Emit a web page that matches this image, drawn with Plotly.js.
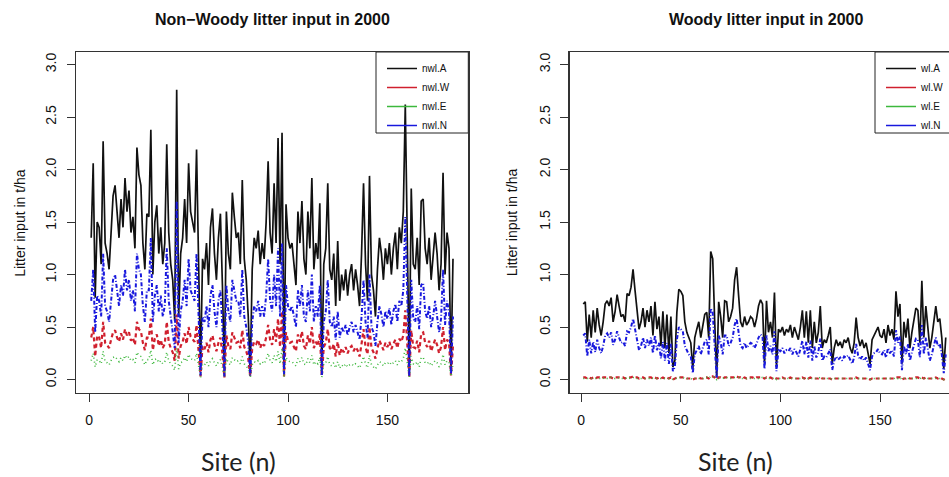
<!DOCTYPE html>
<html>
<head>
<meta charset="utf-8">
<script src="https://cdn.plot.ly/plotly-3.0.1.min.js"></script>
<style>
html,body{margin:0;padding:0;overflow:hidden;background:#fff;}
#chart{width:966px;height:477px;}
</style>
</head>
<body>
<div id="chart"></div>
<script>
// ---- data ----
const nSites = 183;
const sites = Array.from({length: nSites}, (_, i) => i + 1);

const nwlA = [
1.35,2.06,0.78,1.50,1.45,1.10,2.27,1.30,1.20,1.05,
1.40,1.75,1.85,1.55,1.35,1.72,1.45,1.92,1.60,1.80,
1.40,1.55,1.25,2.21,1.95,1.85,1.30,1.05,1.58,1.55,
2.38,1.00,1.50,1.66,1.20,1.45,1.10,1.30,2.24,1.40,
1.10,0.95,0.56,2.76,0.60,1.20,1.35,1.72,1.30,2.06,
1.60,1.50,1.40,2.19,0.95,0.08,1.15,1.05,1.30,0.90,
1.45,1.63,1.20,0.95,1.35,1.58,0.90,0.06,1.60,1.20,
1.05,1.78,1.55,1.35,1.40,1.10,1.90,1.15,0.95,0.60,
0.07,1.05,1.35,1.25,1.42,1.10,1.30,1.15,1.50,2.08,
1.40,1.20,1.87,1.30,2.30,1.10,2.35,0.08,1.67,1.35,
1.25,1.30,1.10,0.90,1.60,1.30,1.70,1.15,1.00,1.60,
1.25,1.92,1.05,1.30,1.15,1.68,0.08,1.10,1.25,1.87,
1.05,0.95,1.20,0.70,1.32,0.75,1.00,0.85,1.05,0.80,
1.00,1.10,0.85,1.05,0.90,0.70,1.20,1.87,1.10,0.75,
1.94,1.00,0.85,0.60,1.05,1.35,1.20,0.95,1.25,1.10,
1.30,1.00,1.25,1.40,1.05,1.45,1.30,1.60,2.62,1.25,
0.06,1.82,1.10,1.05,1.35,0.90,1.70,1.72,1.25,1.10,
1.35,0.95,1.15,1.40,1.20,0.85,1.10,1.97,1.00,1.40,
1.25,0.10,1.15];

const nwlW = [
0.40,0.50,0.22,0.42,0.40,0.30,0.55,0.35,0.33,0.30,
0.38,0.45,0.47,0.40,0.36,0.44,0.38,0.48,0.42,0.45,
0.37,0.40,0.33,0.55,0.48,0.46,0.35,0.28,0.40,0.40,
0.58,0.28,0.39,0.43,0.32,0.38,0.30,0.34,0.55,0.36,
0.30,0.26,0.18,0.62,0.20,0.32,0.36,0.44,0.34,0.50,
0.41,0.39,0.36,0.52,0.27,0.03,0.32,0.29,0.35,0.26,
0.38,0.42,0.33,0.27,0.35,0.40,0.25,0.02,0.42,0.32,
0.29,0.45,0.40,0.35,0.36,0.30,0.47,0.31,0.27,0.20,
0.03,0.30,0.36,0.34,0.38,0.30,0.35,0.32,0.40,0.52,
0.38,0.33,0.48,0.36,0.58,0.31,0.65,0.03,0.45,0.37,
0.35,0.36,0.31,0.27,0.43,0.36,0.46,0.32,0.29,0.42,
0.34,0.50,0.30,0.36,0.32,0.44,0.03,0.31,0.35,0.48,
0.30,0.28,0.34,0.22,0.36,0.23,0.30,0.26,0.31,0.25,
0.30,0.32,0.27,0.31,0.28,0.22,0.34,0.48,0.31,0.24,
0.50,0.30,0.26,0.20,0.30,0.37,0.33,0.28,0.35,0.31,
0.36,0.29,0.34,0.38,0.30,0.39,0.36,0.42,0.66,0.35,
0.02,0.47,0.31,0.30,0.37,0.26,0.44,0.45,0.35,0.31,
0.37,0.27,0.32,0.38,0.33,0.25,0.31,0.50,0.28,0.38,
0.35,0.04,0.32];

const nwlE = [
0.18,0.25,0.12,0.19,0.18,0.15,0.27,0.17,0.16,0.14,
0.18,0.21,0.22,0.19,0.17,0.21,0.18,0.23,0.20,0.22,
0.18,0.19,0.16,0.26,0.23,0.22,0.17,0.14,0.19,0.19,
0.28,0.14,0.19,0.20,0.16,0.18,0.15,0.17,0.26,0.18,
0.15,0.13,0.09,0.30,0.10,0.16,0.17,0.21,0.17,0.24,
0.20,0.19,0.18,0.25,0.13,0.02,0.15,0.14,0.17,0.13,
0.18,0.20,0.16,0.13,0.17,0.19,0.12,0.02,0.20,0.16,
0.14,0.21,0.19,0.17,0.18,0.15,0.22,0.15,0.13,0.10,
0.02,0.14,0.17,0.16,0.18,0.15,0.17,0.15,0.19,0.25,
0.18,0.16,0.23,0.17,0.27,0.15,0.30,0.02,0.21,0.18,
0.17,0.17,0.15,0.13,0.20,0.17,0.21,0.15,0.14,0.20,
0.16,0.23,0.14,0.17,0.15,0.21,0.02,0.15,0.16,0.22,
0.14,0.13,0.16,0.11,0.17,0.11,0.14,0.12,0.15,0.12,
0.14,0.15,0.13,0.15,0.13,0.11,0.16,0.22,0.15,0.11,
0.23,0.14,0.12,0.10,0.14,0.17,0.16,0.13,0.16,0.15,
0.17,0.14,0.16,0.18,0.14,0.18,0.17,0.20,0.30,0.16,
0.02,0.22,0.15,0.14,0.17,0.12,0.21,0.21,0.16,0.15,
0.17,0.13,0.15,0.18,0.16,0.12,0.15,0.24,0.14,0.18,
0.16,0.03,0.15];

const nwlN = [
0.75,1.05,0.45,0.80,0.75,0.60,1.20,0.70,0.65,0.55,
0.75,0.95,1.00,0.85,0.70,0.90,0.80,1.05,0.85,0.95,
0.75,0.85,0.65,1.20,1.05,1.00,0.70,0.55,0.85,0.85,
1.35,0.55,0.80,0.90,0.65,0.80,0.60,0.70,1.25,0.75,
0.60,0.50,0.30,1.70,0.35,0.65,0.75,0.95,0.70,1.15,
0.85,0.80,0.75,1.20,0.50,0.04,0.60,0.55,0.70,0.50,
0.80,0.90,0.65,0.50,0.75,0.85,0.50,0.03,0.90,0.65,
0.55,0.95,0.85,0.75,0.75,0.60,1.05,0.60,0.50,0.35,
0.04,0.55,0.70,0.65,0.75,0.60,0.70,0.60,0.80,1.15,
0.75,0.65,1.00,0.70,1.25,0.60,1.30,0.05,0.90,0.70,
0.65,0.70,0.60,0.50,0.85,0.70,0.90,0.60,0.55,0.85,
0.65,1.00,0.55,0.70,0.60,0.90,0.04,0.55,0.65,0.95,
0.55,0.50,0.60,0.38,0.65,0.40,0.50,0.45,0.52,0.42,
0.50,0.55,0.45,0.52,0.45,0.38,0.60,0.95,0.55,0.40,
1.00,0.50,0.45,0.32,0.55,0.70,0.62,0.50,0.65,0.58,
0.68,0.52,0.65,0.72,0.55,0.75,0.70,0.85,1.55,0.65,
0.03,0.95,0.58,0.55,0.70,0.48,0.90,0.92,0.65,0.58,
0.70,0.50,0.60,0.75,0.62,0.45,0.58,1.05,0.52,0.75,
0.65,0.05,0.60];

const wlA = [
0.72,0.74,0.36,0.62,0.40,0.66,0.45,0.68,0.52,0.42,
0.55,0.72,0.75,0.70,0.78,0.55,0.65,0.81,0.70,0.60,
0.62,0.55,0.82,0.80,0.88,1.05,0.85,0.65,0.48,0.55,
0.68,0.50,0.66,0.55,0.70,0.42,0.74,0.48,0.60,0.32,
0.65,0.30,0.62,0.25,0.60,0.12,0.18,0.64,0.86,0.84,
0.80,0.55,0.45,0.40,0.35,0.10,0.40,0.48,0.55,0.40,
0.50,0.62,0.64,0.40,1.22,1.15,0.55,0.02,0.74,0.60,
0.40,0.75,0.74,0.55,0.60,0.68,0.95,1.07,0.80,0.55,
0.50,0.60,0.52,0.55,0.60,0.58,0.50,0.58,0.70,0.76,
0.72,0.15,0.75,0.45,0.55,0.40,0.83,0.12,0.48,0.45,
0.50,0.42,0.48,0.45,0.52,0.40,0.50,0.44,0.38,0.50,
0.66,0.40,0.65,0.35,0.66,0.30,0.55,0.35,0.45,0.70,
0.30,0.38,0.35,0.42,0.50,0.15,0.30,0.38,0.32,0.36,
0.30,0.38,0.35,0.40,0.30,0.25,0.35,0.59,0.40,0.32,
0.38,0.30,0.35,0.25,0.15,0.38,0.42,0.45,0.50,0.42,
0.40,0.48,0.35,0.52,0.42,0.48,0.38,0.84,0.60,0.72,
0.15,0.55,0.40,0.58,0.30,0.45,0.55,0.68,0.66,0.35,
0.94,0.40,0.70,0.50,0.30,0.40,0.55,0.70,0.55,0.58,
0.40,0.10,0.40];

const wlW = [
0.02,0.02,0.01,0.02,0.01,0.02,0.01,0.02,0.02,0.01,
0.02,0.02,0.02,0.02,0.02,0.01,0.02,0.02,0.02,0.02,
0.02,0.01,0.02,0.02,0.02,0.03,0.02,0.02,0.01,0.02,
0.02,0.01,0.02,0.02,0.02,0.01,0.02,0.01,0.02,0.01,
0.02,0.01,0.02,0.01,0.02,0.00,0.01,0.02,0.02,0.02,
0.02,0.02,0.01,0.01,0.01,0.00,0.01,0.01,0.02,0.01,
0.01,0.02,0.02,0.01,0.03,0.03,0.02,0.00,0.02,0.02,
0.01,0.02,0.02,0.02,0.02,0.02,0.02,0.03,0.02,0.02,
0.01,0.02,0.01,0.02,0.02,0.02,0.01,0.02,0.02,0.02,
0.02,0.01,0.02,0.01,0.02,0.01,0.02,0.01,0.01,0.01,
0.02,0.01,0.01,0.01,0.02,0.01,0.01,0.01,0.01,0.01,
0.02,0.01,0.02,0.01,0.02,0.01,0.01,0.01,0.01,0.02,
0.01,0.01,0.01,0.01,0.01,0.00,0.01,0.01,0.01,0.01,
0.01,0.01,0.01,0.01,0.01,0.01,0.01,0.02,0.01,0.01,
0.01,0.01,0.01,0.01,0.00,0.01,0.01,0.01,0.01,0.01,
0.01,0.01,0.01,0.01,0.01,0.01,0.01,0.02,0.02,0.02,
0.00,0.01,0.01,0.02,0.01,0.01,0.01,0.02,0.02,0.01,
0.02,0.01,0.02,0.01,0.01,0.01,0.01,0.02,0.01,0.02,
0.01,0.00,0.01];

const wlE = [
0.01,0.01,0.01,0.01,0.01,0.01,0.01,0.01,0.01,0.01,
0.01,0.02,0.01,0.01,0.02,0.01,0.01,0.02,0.01,0.01,
0.01,0.01,0.02,0.01,0.02,0.02,0.02,0.01,0.01,0.01,
0.01,0.01,0.01,0.01,0.02,0.01,0.01,0.01,0.01,0.01,
0.01,0.01,0.01,0.01,0.01,0.00,0.01,0.01,0.02,0.02,
0.02,0.01,0.01,0.01,0.01,0.00,0.01,0.01,0.01,0.01,
0.01,0.01,0.02,0.01,0.03,0.03,0.02,0.00,0.02,0.01,
0.01,0.02,0.02,0.01,0.01,0.02,0.02,0.02,0.02,0.01,
0.01,0.01,0.01,0.01,0.01,0.01,0.01,0.01,0.01,0.02,
0.02,0.01,0.02,0.01,0.01,0.01,0.02,0.00,0.01,0.01,
0.01,0.01,0.01,0.01,0.01,0.01,0.01,0.01,0.01,0.01,
0.01,0.01,0.01,0.01,0.01,0.01,0.01,0.01,0.01,0.02,
0.01,0.01,0.01,0.01,0.01,0.00,0.01,0.01,0.01,0.01,
0.01,0.01,0.01,0.01,0.01,0.01,0.01,0.01,0.01,0.01,
0.01,0.01,0.01,0.01,0.00,0.01,0.01,0.01,0.01,0.01,
0.01,0.01,0.01,0.01,0.01,0.01,0.01,0.02,0.01,0.02,
0.00,0.01,0.01,0.01,0.01,0.01,0.01,0.01,0.01,0.01,
0.02,0.01,0.01,0.01,0.01,0.01,0.01,0.01,0.01,0.01,
0.01,0.00,0.01];

const wlN = [
0.42,0.44,0.22,0.38,0.25,0.36,0.26,0.38,0.30,0.25,
0.32,0.42,0.44,0.40,0.45,0.33,0.38,0.46,0.40,0.35,
0.36,0.32,0.46,0.45,0.50,0.58,0.48,0.38,0.28,0.32,
0.40,0.30,0.38,0.32,0.40,0.25,0.42,0.28,0.35,0.20,
0.36,0.18,0.35,0.15,0.34,0.08,0.12,0.38,0.50,0.48,
0.46,0.32,0.27,0.24,0.22,0.06,0.24,0.28,0.32,0.24,
0.30,0.36,0.38,0.24,0.68,0.64,0.32,0.02,0.42,0.35,
0.24,0.42,0.42,0.32,0.35,0.40,0.52,0.58,0.45,0.32,
0.30,0.35,0.30,0.32,0.35,0.34,0.30,0.34,0.40,0.43,
0.41,0.10,0.42,0.27,0.32,0.24,0.46,0.08,0.28,0.27,
0.30,0.25,0.28,0.27,0.30,0.24,0.29,0.26,0.22,0.29,
0.37,0.24,0.36,0.21,0.37,0.18,0.32,0.21,0.26,0.39,
0.18,0.22,0.21,0.25,0.29,0.09,0.18,0.22,0.19,0.21,
0.18,0.22,0.21,0.23,0.18,0.15,0.21,0.34,0.23,0.19,
0.22,0.18,0.21,0.15,0.09,0.22,0.25,0.26,0.29,0.25,
0.24,0.28,0.21,0.30,0.25,0.28,0.22,0.47,0.35,0.41,
0.09,0.32,0.24,0.34,0.18,0.26,0.32,0.39,0.38,0.21,
0.52,0.24,0.40,0.29,0.18,0.24,0.32,0.40,0.32,0.34,
0.24,0.06,0.24];

const leftNames  = ['nwl.A','nwl.W','nwl.E','nwl.N'];
const rightNames = ['wl.A','wl.W','wl.E','wl.N'];
const xTicks = [0, 50, 100, 150];
const yTicks = [0, 0.5, 1, 1.5, 2, 2.5, 3];
const titles = ['Non\u2212Woody litter input in 2000', 'Woody litter input in 2000'];
const yTitle = 'Litter input in t/ha';
const xTitle = 'Site (n)';

// ---- styling ----
const colors = ['#111111', '#D0202E', '#3DB83D', '#1818DD'];
const dashes = ['solid', '4px,3px', '1px,3px', '4px,2px,1px,2px'];
const widths = [1.7, 2.2, 1.6, 2.0];
const W = 966, H = 477;
const MT = 52, MB = 84, PH = H - MT - MB;
const FONT = 'Liberation Sans, Arial, sans-serif';

const traces = [];
const leftSeries = [nwlA, nwlW, nwlE, nwlN];
const rightSeries = [wlA, wlW, wlE, wlN];
[[leftSeries, 'x', 'y'], [rightSeries, 'x2', 'y2']].forEach(([ser, xa, ya]) => {
  ser.forEach((vals, k) => {
    traces.push({
      type: 'scatter', mode: 'lines', x: sites, y: vals, xaxis: xa, yaxis: ya,
      line: {color: colors[k], width: widths[k], dash: dashes[k]},
      showlegend: false, hoverinfo: 'skip'
    });
  });
});
// legend entries (solid lines as in the R legend)
[[leftNames, 'x', 'y', 'legend'], [rightNames, 'x2', 'y2', 'legend2']].forEach(([names, xa, ya, lg]) => {
  names.forEach((nm, k) => {
    traces.push({
      type: 'scatter', mode: 'lines', x: [null], y: [null], xaxis: xa, yaxis: ya,
      name: nm, legend: lg, showlegend: true,
      line: {color: colors[k], width: 1.5}
    });
  });
});

const boxL1 = 76.3, boxR1 = 468.3, boxL2 = 569.7, boxR2 = 961.7;
const legBoxL1 = 376, legBoxL2 = 875, legBoxBottom = 133;

function xAxis(dom, rng, anchor) {
  return {
    domain: dom, range: rng, anchor: anchor, tickvals: xTicks, ticks: 'outside', ticklen: 8,
    tickcolor: '#333', tickwidth: 1, showline: true, mirror: true, linecolor: '#333', linewidth: 1.3,
    showgrid: false, zeroline: false, ticklabelstandoff: 6,
    tickfont: {family: FONT, size: 14, color: '#111'}, fixedrange: true
  };
}
function yAxis(anchor) {
  return {
    domain: [0, 1], range: [-0.128, 3.12], anchor: anchor, tickvals: yTicks, tickformat: '.1f',
    tickangle: -90, ticks: 'outside', ticklen: 8, tickcolor: '#333', tickwidth: 1,
    showline: true, mirror: true, linecolor: '#333', linewidth: 1.3, ticklabelstandoff: 5,
    showgrid: false, zeroline: false, tickfont: {family: FONT, size: 14, color: '#111'}, fixedrange: true
  };
}

const legendBase = {
  y: 1 - 2 / PH, yanchor: 'top', xanchor: 'left', bgcolor: 'rgba(0,0,0,0)', borderwidth: 0,
  font: {family: FONT, size: 10, color: '#111'}, itemwidth: 30, tracegroupgap: 0
};

const shapes = [[legBoxL1, boxR1], [legBoxL2, boxR2]].map(([a, b]) => ({
  type: 'rect', xref: 'paper', yref: 'paper', layer: 'below',
  x0: a / W, x1: b / W, y0: (H - MB - legBoxBottom) / PH, y1: 1,
  line: {color: '#222', width: 1}, fillcolor: 'rgba(0,0,0,0)'
}));

const annotations = [];
[['x domain', 0], ['x2 domain', 1]].forEach(([xr, i]) => {
  annotations.push({xref: xr, yref: 'paper', x: 0.5, y: 1, yshift: 33, showarrow: false,
    text: titles[i], font: {family: FONT, size: 16, color: '#111', weight: 'bold'},
    xanchor: 'center', yanchor: 'middle'});
  annotations.push({xref: xr, yref: 'paper', x: 0, y: 0.5, xshift: i === 0 ? -57 : -58, showarrow: false,
    text: yTitle, textangle: -90, font: {family: FONT, size: 14, color: '#111'},
    xanchor: 'center', yanchor: 'middle'});
  annotations.push({xref: xr, yref: 'paper', x: i === 0 ? 0.415 : 0.422, y: 0, yshift: -68, showarrow: false,
    text: xTitle, font: {family: 'Lato, sans-serif', size: 25, color: '#222'},
    xanchor: 'center', yanchor: 'middle'});
});

const layout = {
  width: W, height: H,
  margin: {l: 0, r: 0, t: MT, b: MB},
  paper_bgcolor: 'white', plot_bgcolor: 'white',
  xaxis: xAxis([boxL1 / W, boxR1 / W], [-6.5, 190.7], 'y'),
  yaxis: yAxis('x'),
  xaxis2: xAxis([boxL2 / W, boxR2 / W], [-5.8, 191], 'y2'),
  yaxis2: yAxis('x2'),
  legend: Object.assign({x: (legBoxL1 + 6) / W}, legendBase),
  legend2: Object.assign({x: (legBoxL2 + 6) / W}, legendBase),
  shapes: shapes,
  annotations: annotations
};

Plotly.newPlot('chart', traces, layout, {staticPlot: true, displayModeBar: false});
</script>
</body>
</html>
